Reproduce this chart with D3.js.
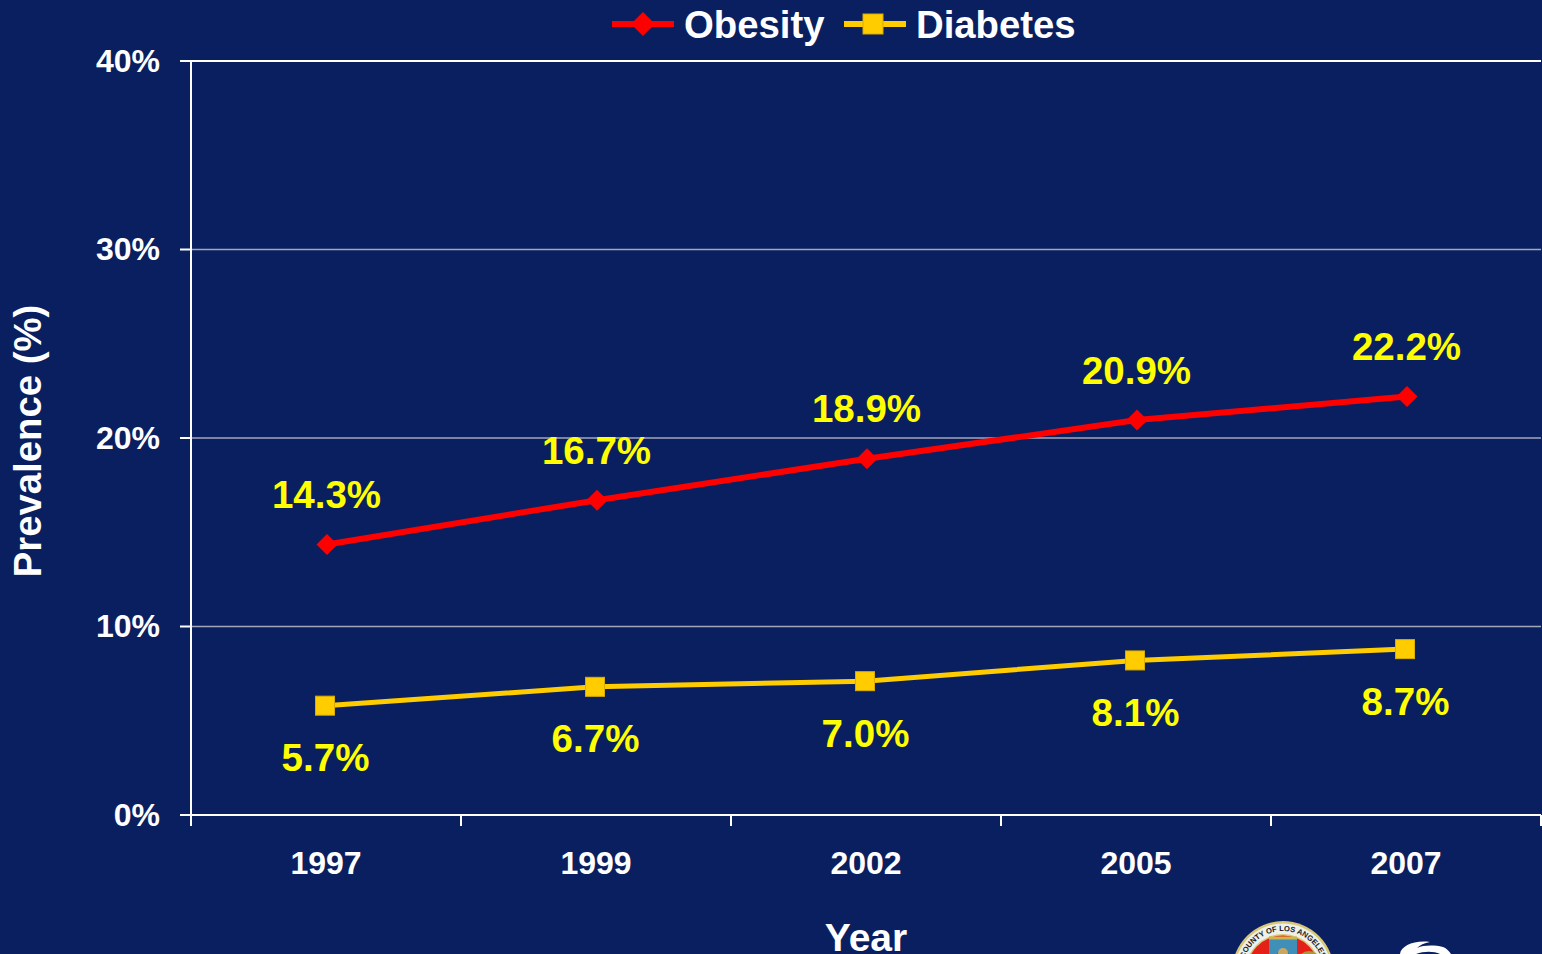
<!DOCTYPE html>
<html><head><meta charset="utf-8">
<script src="https://cdn.jsdelivr.net/npm/d3@7/dist/d3.min.js"></script>
<style>
html,body{margin:0;padding:0;background:#0a1f60;overflow:hidden}
svg{display:block}
text{font-family:"Liberation Sans",Arial,sans-serif;font-weight:bold}
</style></head><body><div id="c"></div>
<script>
const years = ["1997","1999","2002","2005","2007"];
const obesity = [14.35,16.7,18.9,20.95,22.2];
const diabetes = [5.8,6.8,7.1,8.2,8.8];
const obesityLabels = ["14.3%","16.7%","18.9%","20.9%","22.2%"];
const diabetesLabels = ["5.7%","6.7%","7.0%","8.1%","8.7%"];
const yTicks = [0,10,20,30,40];

const W=1542,H=954;
const plotL=191,plotR=1541,plotT=61,plotB=815;
const svg=d3.select("#c").append("svg").attr("width",W).attr("height",H);
const x=d3.scaleBand().domain(years).range([plotL,plotR]);
const y=d3.scaleLinear().domain([0,40]).range([plotB,plotT]);
const cx=d=>x(d)+x.bandwidth()/2;

// gridlines
svg.append("g").selectAll("line").data(yTicks.filter(t=>t>0)).join("line")
  .attr("x1",plotL).attr("x2",plotR).attr("y1",d=>y(d)).attr("y2",d=>y(d))
  .attr("stroke",d=>d===40?"#ffffff":"#a3a7b8").attr("stroke-width",d=>d===40?2:1.6);

// axes
const gy=svg.append("g").attr("transform",`translate(${plotL},0)`)
  .call(d3.axisLeft(y).offset(0).tickValues(yTicks).tickFormat(d=>d+"%").tickSize(11).tickPadding(20));
const gx=svg.append("g").attr("transform",`translate(0,${plotB})`)
  .call(d3.axisBottom(x).offset(0).tickSize(0).tickPadding(36));
gx.append("g").selectAll("line").data(d3.range(6)).join("line")
  .attr("x1",i=>plotL+i*x.bandwidth()).attr("x2",i=>plotL+i*x.bandwidth())
  .attr("y1",0).attr("y2",11).attr("stroke","#fff").attr("stroke-width",2);
[gy,gx].forEach(g=>{
  g.selectAll(".domain").attr("stroke","#fff").attr("stroke-width",2);
  g.selectAll(".tick line").attr("stroke","#fff").attr("stroke-width",2);
  g.selectAll("text").attr("fill","#fff").style("font-size","32px")
   .style("font-family",'"Liberation Sans",Arial,sans-serif').style("font-weight","bold");
});
gy.selectAll("text").attr("dy","0.34em");
gx.selectAll(".tick text").attr("dy","0.72em");

// series
const lineGen=d3.line().x(d=>d[0]).y(d=>d[1]);
const obPts=years.map((d,i)=>[cx(d)+1,y(obesity[i])]);
const diPts=years.map((d,i)=>[cx(d)-1,y(diabetes[i])]);
const RED="#ff0000",GOLD="#ffcc00";
const diamond=(g,px,py,r)=>g.append("path").attr("d",`M${px},${py-r}L${px+r},${py}L${px},${py+r}L${px-r},${py}Z`).attr("fill",RED);
const square=(g,px,py,r)=>g.append("rect").attr("x",px-r).attr("y",py-r).attr("width",2*r).attr("height",2*r).attr("fill",GOLD).attr("stroke","#d9ad00").attr("stroke-width",1);

const marks=svg.append("g");
marks.append("path").attr("d",lineGen(obPts)).attr("fill","none").attr("stroke",RED).attr("stroke-width",6);
marks.append("path").attr("d",lineGen(diPts)).attr("fill","none").attr("stroke",GOLD).attr("stroke-width",5);
obPts.forEach(p=>diamond(marks,p[0],p[1],10.5));
diPts.forEach(p=>square(marks,p[0],p[1],9.5));

// value labels
const lab=svg.append("g").attr("fill","#ffff00").attr("text-anchor","middle").style("font-size","38.5px");
lab.selectAll(".o").data(years).join("text").attr("class","o")
  .attr("x",d=>cx(d)+.5).attr("y",(d,i)=>y(obesity[i])-36.3).text((d,i)=>obesityLabels[i]);
lab.selectAll(".d").data(years).join("text").attr("class","d")
  .attr("x",d=>cx(d)-.5).attr("y",(d,i)=>y(diabetes[i])+65.5).text((d,i)=>diabetesLabels[i]);

// axis titles
svg.append("text").attr("x",866).attr("y",951).attr("text-anchor","middle").attr("fill","#fff").style("font-size","39px").text("Year");
svg.append("text").attr("transform","translate(41,441) rotate(-90)").attr("text-anchor","middle").attr("fill","#fff").style("font-size","38.3px").text("Prevalence (%)");

// legend
const leg=svg.append("g");
leg.append("line").attr("x1",612).attr("x2",674).attr("y1",24).attr("y2",24).attr("stroke",RED).attr("stroke-width",6);
diamond(leg,643,24,12);
leg.append("text").attr("x",684).attr("y",38).attr("fill","#fff").style("font-size","38.3px").text("Obesity");
leg.append("line").attr("x1",844).attr("x2",906).attr("y1",24).attr("y2",24).attr("stroke",GOLD).attr("stroke-width",6);
square(leg,873,24,10);
leg.append("text").attr("x",916).attr("y",38).attr("fill","#fff").style("font-size","38.3px").text("Diabetes");

// logos at the bottom edge
const seal=svg.append("g").attr("transform","translate(1283,972)");
seal.append("circle").attr("r",51).attr("fill","#d9c877");
seal.append("circle").attr("r",48.5).attr("fill","#eef0ea");
seal.append("circle").attr("r",38).attr("fill","#d9c877");
seal.append("circle").attr("r",36.5).attr("fill","#e32119");
seal.append("path").attr("d","M-14,-34L14,-34L14,0L-14,0Z").attr("fill","#3f8fb8");
seal.append("path").attr("d","M-14,-34L14,-34").attr("stroke","#cdb64c").attr("stroke-width",3);
seal.append("ellipse").attr("cy",-8).attr("rx",8).attr("ry",14).attr("fill","#1b1a12");
seal.append("circle").attr("cy",-19).attr("r",5).attr("fill","#c8a860");
seal.append("circle").attr("cx",26).attr("cy",-9).attr("r",12).attr("fill","#a89a3c");
seal.append("circle").attr("cx",-24).attr("cy",-12).attr("r",5).attr("fill","#6b2a14");
svg.append("defs").append("path").attr("id","arc").attr("d","M-41,0A41,41 0 0 1 41,0");
seal.append("text").attr("fill","#222").style("font-size","7.6px")
  .append("textPath").attr("href","#arc").attr("startOffset","50%").attr("text-anchor","middle").text("COUNTY OF LOS ANGELES");
svg.append("path").attr("d","M1400,954C1401,946 1414,940 1430,942C1424,943 1420,945 1417,948C1424,945 1434,945 1443,947C1446,948 1449,951 1451,954L1440,954C1434,951 1424,951 1416,954Z").attr("fill","#fff");
</script></body></html>
